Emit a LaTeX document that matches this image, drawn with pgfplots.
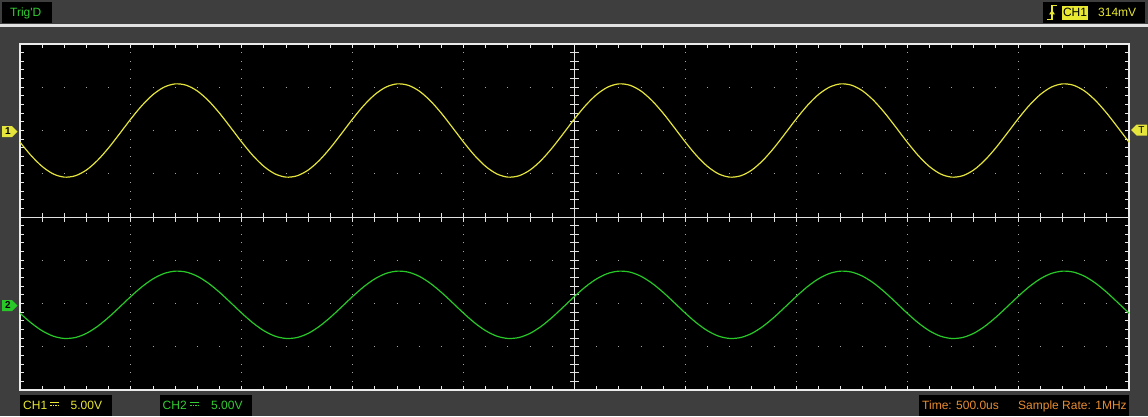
\documentclass[border=0pt]{standalone}
\usepackage{pgfplots}
\pgfplotsset{compat=1.18}
\usepackage{pgfplotstable}
\usepackage{fontspec}
\setmainfont{Liberation Sans}

\definecolor{scopebg}{RGB}{62,62,62}
\definecolor{sepline}{RGB}{225,225,225}
\definecolor{framecol}{RGB}{235,235,235}
\definecolor{griddot}{RGB}{165,165,165}
\definecolor{centerline}{RGB}{225,225,225}
\definecolor{ch1col}{RGB}{228,228,60}
\definecolor{ch2col}{RGB}{40,200,40}
\definecolor{ch1text}{RGB}{232,232,50}
\definecolor{ch2text}{RGB}{50,205,50}
\definecolor{orangetext}{RGB}{232,140,50}

% x in divisions (500us/div), y in divisions
\pgfplotstableread{
x ch1 ch2
0.0 1.731 -2.224
0.1 1.421 -2.448
0.2 1.168 -2.631
0.3 0.996 -2.755
0.4 0.922 -2.808
0.5 0.954 -2.786
0.6 1.088 -2.689
0.7 1.312 -2.527
0.8 1.602 -2.317
0.9 1.932 -2.079
1.0 2.269 -1.836
1.1 2.579 -1.612
1.2 2.832 -1.429
1.3 3.004 -1.305
1.4 3.078 -1.252
1.5 3.046 -1.274
1.6 2.912 -1.371
1.7 2.688 -1.533
1.8 2.398 -1.743
1.9 2.068 -1.981
2.0 1.731 -2.224
2.1 1.421 -2.448
2.2 1.168 -2.631
2.3 0.996 -2.755
2.4 0.922 -2.808
2.5 0.954 -2.786
2.6 1.088 -2.689
2.7 1.312 -2.527
2.8 1.602 -2.317
2.9 1.932 -2.079
3.0 2.269 -1.836
3.1 2.579 -1.612
3.2 2.832 -1.429
3.3 3.004 -1.305
3.4 3.078 -1.252
3.5 3.046 -1.274
3.6 2.912 -1.371
3.7 2.688 -1.533
3.8 2.398 -1.743
3.9 2.068 -1.981
4.0 1.731 -2.224
4.1 1.421 -2.448
4.2 1.168 -2.631
4.3 0.996 -2.755
4.4 0.922 -2.808
4.5 0.954 -2.786
4.6 1.088 -2.689
4.7 1.312 -2.527
4.8 1.602 -2.317
4.9 1.932 -2.079
5.0 2.269 -1.836
5.1 2.579 -1.612
5.2 2.832 -1.429
5.3 3.004 -1.305
5.4 3.078 -1.252
5.5 3.046 -1.274
5.6 2.912 -1.371
5.7 2.688 -1.533
5.8 2.398 -1.743
5.9 2.068 -1.981
6.0 1.731 -2.224
6.1 1.421 -2.448
6.2 1.168 -2.631
6.3 0.996 -2.755
6.4 0.922 -2.808
6.5 0.954 -2.786
6.6 1.088 -2.689
6.7 1.312 -2.527
6.8 1.602 -2.317
6.9 1.932 -2.079
7.0 2.269 -1.836
7.1 2.579 -1.612
7.2 2.832 -1.429
7.3 3.004 -1.305
7.4 3.078 -1.252
7.5 3.046 -1.274
7.6 2.912 -1.371
7.7 2.688 -1.533
7.8 2.398 -1.743
7.9 2.068 -1.981
8.0 1.731 -2.224
8.1 1.421 -2.448
8.2 1.168 -2.631
8.3 0.996 -2.755
8.4 0.922 -2.808
8.5 0.954 -2.786
8.6 1.088 -2.689
8.7 1.312 -2.527
8.8 1.602 -2.317
8.9 1.932 -2.079
9.0 2.269 -1.836
9.1 2.579 -1.612
9.2 2.832 -1.429
9.3 3.004 -1.305
9.4 3.078 -1.252
9.5 3.046 -1.274
9.6 2.912 -1.371
9.7 2.688 -1.533
9.8 2.398 -1.743
9.9 2.068 -1.981
10.0 1.731 -2.224
}\scopedata

\begin{document}
\begin{tikzpicture}[x=1pt,y=1pt,
  lbl/.style={inner sep=0pt, font=\fontsize{12}{14}\selectfont}]
\useasboundingbox (0,0) rectangle (1148,416);
\fill[scopebg] (0,0) rectangle (1148,416);
\fill[sepline] (0,389) rectangle (1148,391.5);

% screen and dotted graticule
\fill[black] (20,26) rectangle (1129,372);
\foreach \k in {1,2,3,4,6,7,8,9}
  \draw[griddot, line width=1pt, dash pattern=on 1pt off 7.65pt, dash phase=0.5pt]
    ({20+\k*110.9},26) -- ({20+\k*110.9},372);
\foreach \k in {1,2,3,5,6,7}
  \draw[griddot, line width=1pt, dash pattern=on 1pt off 21.18pt, dash phase=0.5pt]
    (20,{26+\k*43.25}) -- (1129,{26+\k*43.25});

% centre cross with fine ticks
\draw[centerline, line width=1pt] (20,199) -- (1129,199);
\draw[centerline, line width=1pt] (574.5,26) -- (574.5,372);
\foreach \k in {1,...,49}
  \draw[centerline, line width=1pt] ({20+\k*22.18},194.5) -- ++(0,9);
\foreach \k in {1,...,39}
  \draw[centerline, line width=1pt] (570,{26+\k*8.65}) -- ++(9,0);

\begin{axis}[
    at={(20pt,26pt)}, anchor=south west,
    scale only axis, width=1109pt, height=346pt,
    xmin=0, xmax=10, ymin=-4, ymax=4,
    xtick={0,...,10}, ytick={-4,...,4},
    minor x tick num=4, minor y tick num=4,
    xticklabels={}, yticklabels={},
    tick align=inside,
    major tick length=4pt, minor tick length=4pt,
    tick style={draw=framecol, line width=1pt},
    axis line style={draw=framecol, line width=1.8pt},
  ]
  \addplot[ch1col, line width=1.2pt, smooth, no markers] table[x=x, y=ch1] {\scopedata};
  \addplot[ch2col, line width=1.2pt, smooth, no markers] table[x=x, y=ch2] {\scopedata};
\end{axis}

% channel markers
\fill[ch1col] (2,290) -- (12,290) -- (17.5,284.5) -- (12,279) -- (2,279) -- cycle;
\node[inner sep=0pt, font=\fontsize{10}{12}\selectfont\bfseries, text=black] at (8,284.5) {1};
\fill[ch2col] (2,116) -- (12,116) -- (17.5,110.5) -- (12,105) -- (2,105) -- cycle;
\node[inner sep=0pt, font=\fontsize{10}{12}\selectfont\bfseries, text=black] at (8,110.5) {2};
\fill[ch1col] (1131,286) -- (1136.5,291.5) -- (1147,291.5) -- (1147,280.5) -- (1136.5,280.5) -- cycle;
\node[inner sep=0pt, font=\fontsize{10}{12}\selectfont, text=black] at (1141.5,286) {T};

% top status
\fill[black] (2,393) rectangle (52,414);
\node[lbl, anchor=base west, text=ch2text] at (10,399.3) {Trig\textquotesingle D};
\fill[black] (1043,393) rectangle (1145,414);
\draw[ch1text, line width=1.2pt] (1047,396.5) -- (1052,396.5) -- (1052,410.5) -- (1057,410.5);
\fill[ch1text] (1049,401.5) -- (1052,406) -- (1055,401.5) -- cycle;
\fill[ch1text] (1062,396) rectangle (1088,410);
\node[lbl, anchor=base, text=black] at (1075,399.3) {CH1};
\node[lbl, anchor=base west, text=ch1text] at (1098,399.3) {314mV};

% bottom status
\fill[black] (20,0) rectangle (112,21);
\node[lbl, anchor=base west, text=ch1text] at (23,6.7) {CH1};
\draw[ch1text, line width=1pt] (50,13.3) -- (58.5,13.3);
\draw[ch1text, line width=1pt, dash pattern=on 1.5pt off 1pt] (50,10.3) -- (58.5,10.3);
\node[lbl, anchor=base west, text=ch1text] at (70.5,6.7) {5.00V};

\fill[black] (160,0) rectangle (252,21);
\node[lbl, anchor=base west, text=ch2text] at (162.5,6.7) {CH2};
\draw[ch2text, line width=1pt] (190,13.3) -- (198.5,13.3);
\draw[ch2text, line width=1pt, dash pattern=on 1.5pt off 1pt] (190,10.3) -- (198.5,10.3);
\node[lbl, anchor=base west, text=ch2text] at (211,6.7) {5.00V};

\fill[black] (919,0) rectangle (1129,21);
\node[lbl, anchor=base west, text=orangetext] at (922,7) {Time: 500.0us};
\node[lbl, anchor=base west, text=orangetext] at (1018,7) {Sample Rate: 1MHz};
\end{tikzpicture}
\end{document}
